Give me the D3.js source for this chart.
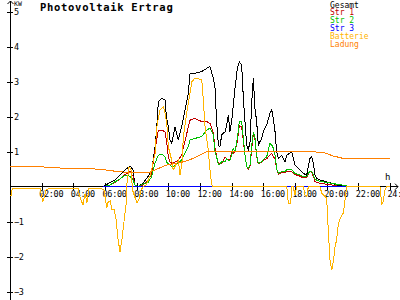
<!DOCTYPE html>
<html><head><meta charset="utf-8">
<script src="https://cdn.jsdelivr.net/npm/d3@7"></script>
<style>body{margin:0;background:#fff}svg{display:block}</style>
</head><body><svg id="c" width="400" height="300"></svg>
<script>
// ---- data ----
const seriesNames = ["Gesamt","Str 1","Str 2","Str 3","Batterie","Ladung"];
const seriesColors = ["#000000","#c00000","#00c000","#0000ff","#ffb400","#ff8000"];
const hourTicks = [2,4,6,8,10,12,14,16,18,20,22,24];
const valueTicks = [-3,-2,-1,1,2,3,4,5];

const pvHours = [5.87,6.32,6.63,6.95,7.26,7.58,7.77,7.89,8.08,8.40,8.72,8.95,9.16,9.27,9.37,9.58,9.79,9.88,10.0,10.11,10.21,10.42,10.63,10.84,11.05,11.26,11.37,11.68,12.11,12.42,12.63,12.84,12.95,13.05,13.16,13.26,13.37,13.58,13.69,13.79,13.89,14.0,14.10,14.21,14.36,14.48,14.63,14.74,14.84,14.95,15.05,15.16,15.27,15.37,15.47,15.58,15.68,15.79,15.90,16.0,16.21,16.42,16.53,16.63,16.74,16.84,16.95,17.16,17.37,17.48,17.79,18.0,18.32,18.52,18.74,18.84,18.95,19.06,19.16,19.26,19.37,19.58,20.0,20.32,20.63,21.27,21.35];
const gesamt = [0,0.12,0.19,0.33,0.48,0.59,0.48,0.05,0,0.1,0.29,0.48,1.14,1.71,2.43,2.52,2.48,2.0,1.71,1.33,1.24,1.71,1.33,1.71,2.19,2.67,3.24,3.24,3.29,3.38,3.43,3.1,2.81,1.86,1.19,1.14,1.48,1.57,1.76,2.05,1.57,1.86,2.33,2.81,3.38,3.57,3.48,2.52,1.86,1.19,1.05,1.29,2.43,3.1,2.24,1.86,1.19,1.29,1.38,1.57,1.76,2.1,2.19,1.95,1.57,1.0,0.81,0.9,0.71,0.9,1.0,0.62,0.48,0.38,0.33,0.57,0.81,0.86,0.67,0.33,0.24,0.19,0.14,0.1,0.05,0.02,0];
const str1 = [0,0.05,0.12,0.22,0.35,0.43,0.3,0.05,0,0.05,0.19,0.38,1.05,1.35,1.62,1.62,1.57,1.33,0.86,0.71,0.67,0.7,0.76,0.9,1.3,1.7,1.9,1.95,1.86,1.86,1.81,1.55,1.1,0.86,0.67,0.67,0.67,0.85,0.8,0.76,0.78,1.0,0.95,1.0,1.3,1.75,1.7,1.3,0.9,0.57,0.5,0.6,1.1,1.5,1.35,0.85,0.65,0.68,0.7,0.75,0.8,0.9,0.95,0.85,0.8,0.5,0.36,0.4,0.4,0.45,0.43,0.35,0.3,0.25,0.25,0.35,0.45,0.4,0.3,0.15,0.12,0.1,0.07,0.05,0.02,0,0];
const str2 = [0,0.05,0.14,0.22,0.33,0.3,0.2,0.05,0,0.08,0.12,0.29,0.67,0.8,0.9,0.93,0.86,0.71,0.65,0.62,0.57,0.6,0.67,0.76,0.95,1.14,1.33,1.38,1.43,1.62,1.67,1.48,1.0,0.86,0.62,0.65,0.71,0.72,0.81,0.75,0.76,0.9,1.1,1.0,1.38,1.86,1.86,1.38,0.9,0.57,0.52,0.62,1.19,1.57,1.4,0.9,0.67,0.7,0.71,0.78,0.85,1.24,1.19,1.1,0.9,0.52,0.38,0.43,0.43,0.48,0.48,0.38,0.33,0.29,0.29,0.38,0.43,0.43,0.33,0.22,0.19,0.15,0.12,0.1,0.07,0.03,0];
const str3Hours = [5.87,21.3];
const str3 = [0,0];
const batHours = [0,0.08,0.15,1.89,2.08,2.27,2.53,4.29,4.42,4.61,4.74,4.86,4.99,5.68,5.94,6.11,6.19,6.32,6.44,6.57,6.69,6.82,6.95,7.07,7.2,7.33,7.39,7.52,7.64,7.74,7.89,8.02,8.15,8.27,8.4,8.59,8.84,8.95,9.05,9.16,9.27,9.37,9.47,9.68,9.79,9.9,10.0,10.21,10.31,10.45,10.63,10.74,10.86,10.95,11.16,11.37,11.48,11.68,12.0,12.11,12.21,12.32,12.52,12.63,12.74,12.82,17.48,17.58,17.73,17.79,17.9,18.0,18.11,18.52,18.63,18.74,18.84,19.58,19.69,20.0,20.1,20.21,20.32,20.42,20.53,20.63,20.74,20.95,21.05,21.16,21.27,23.37,23.48,23.58,23.68,23.79,24];
const batterie = [-0.25,-0.25,-0.04,-0.04,-0.43,-0.1,-0.04,-0.04,-0.3,-0.52,-0.2,-0.45,-0.04,-0.04,-0.1,-0.6,-0.45,-0.4,-0.65,-0.65,-0.9,-1.5,-1.86,-1.5,-1.0,-0.5,0.1,0.57,0.5,-0.1,-0.3,-0.47,-0.35,-0.1,0,0.05,0.3,0.48,0.75,0.95,1.71,1.95,2.19,2.29,2.1,1.81,1.14,0.76,0.48,0.6,0.76,0.33,0.7,1.43,2.1,2.67,3.0,3.1,3.07,3.05,2.48,1.71,1.05,0.48,0.05,0,0,-0.48,-0.48,0,0,-0.24,0,0,-0.24,-0.29,0,0,-0.19,-0.33,-1.24,-2.1,-2.38,-2.14,-1.71,-1.52,-1.05,-0.81,-0.76,-0.38,0,0,-0.52,-0.4,-0.1,0,0];
const ladHours = [0,2.08,2.3,3.79,5.68,6.5,7.14,8.84,9.9,10.95,11.58,12.21,12.42,18.95,19.77,20.4,21.03,24];
const ladung = [0.57,0.57,0.54,0.53,0.5,0.45,0.42,0.42,0.62,0.71,0.81,0.95,1.0,1.0,0.98,0.88,0.81,0.81];

// ---- chart ----
const svg = d3.select("#c");
svg.append("rect").attr("width",400).attr("height",300).attr("fill","#fff");
const x = d3.scaleLinear().domain([0,24]).range([10,390]);
const y = d3.scaleLinear().domain([-3,5]).range([291.7,11.7]);
const mono = "'DejaVu Sans Mono', monospace";

// axes
const xAxis = d3.axisBottom(x).tickValues(hourTicks)
  .tickFormat(d => String(d).padStart(2,"0") + ":00").tickSize(0);
const gx = svg.append("g").attr("transform",`translate(0,${y(0)})`).call(xAxis);
gx.select(".domain").remove();
gx.selectAll(".tick line").attr("y1",-4).attr("y2",3).attr("stroke","#000").attr("shape-rendering","crispEdges");
gx.selectAll(".tick text").attr("x",-3).attr("y",10).attr("dy",null).attr("text-anchor","start")
  .attr("font-family",mono).attr("font-size",8.5).attr("letter-spacing","-0.3px").attr("fill","#000");

const yAxis = d3.axisRight(y).tickValues(valueTicks).tickFormat(d3.format("d")).tickSize(0);
const gy = svg.append("g").attr("transform",`translate(10,0)`).call(yAxis);
gy.select(".domain").remove();
gy.selectAll(".tick line").attr("x1",-3).attr("x2",3).attr("stroke","#000").attr("shape-rendering","crispEdges");
gy.selectAll(".tick text").attr("x",4).attr("dy","0.32em").attr("text-anchor","start")
  .attr("font-family",mono).attr("font-size",8.5).attr("letter-spacing","-0.3px").attr("fill","#000");

// axis lines with arrows
svg.append("line").attr("x1",10).attr("x2",398).attr("y1",y(0)).attr("y2",y(0)).attr("stroke","#000").attr("shape-rendering","crispEdges");
svg.append("path").attr("d",`M395,${y(0)-3}L398,${y(0)}L395,${y(0)+3}`).attr("fill","none").attr("stroke","#000");
svg.append("line").attr("x1",10.5).attr("x2",10.5).attr("y1",1).attr("y2",300).attr("stroke","#000");
svg.append("path").attr("d","M7.5,4L10.5,1L13.5,4").attr("fill","none").attr("stroke","#000");
svg.append("text").attr("x",14).attr("y",5.5).attr("font-family",mono).attr("font-size",6.5).attr("fill","#000").text("KW");
svg.append("text").attr("x",385).attr("y",180).attr("font-family",mono).attr("font-size",9).attr("fill","#000").text("h");

// title
svg.append("text").attr("x",40).attr("y",10.5).attr("font-family",mono).attr("font-size",10.5)
  .attr("font-weight","bold").attr("letter-spacing","0.7px").attr("fill","#000").text("Photovoltaik Ertrag");

// series
const line = d3.line().x(d => x(d[0])).y(d => y(d[1]));
const series = [
  [pvHours, gesamt],[pvHours, str1],[pvHours, str2],
  [str3Hours, str3],[batHours, batterie],[ladHours, ladung]
];
series.forEach((s,i) => {
  const pts = s[0].map((h,j) => [h, s[1][j]]);
  svg.append("path").attr("d", line(pts)).attr("fill","none")
    .attr("stroke", seriesColors[i]).attr("stroke-width",1).attr("shape-rendering","crispEdges");
});

// legend
seriesNames.forEach((n,i) => {
  svg.append("text").attr("x",330).attr("y",7.5 + i*7.9).attr("font-family",mono).attr("font-size",8)
    .attr("fill",seriesColors[i]).text(n);
});
</script></body></html>
